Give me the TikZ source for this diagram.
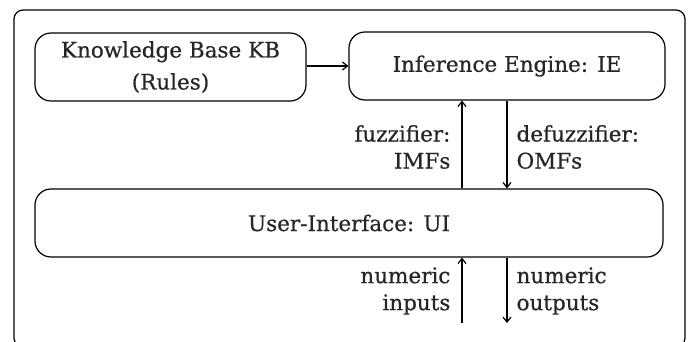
\documentclass[tikz,border=0pt]{standalone}
\usepackage{fontspec}
\setmainfont{DejaVu Serif}[FakeBold=0.6]
\usetikzlibrary{arrows.meta}
\begin{document}
\begin{tikzpicture}[x=1pt,y=-1pt,
  line width=1.2pt,
  every node/.style={font=\fontsize{21.5}{27}\selectfont, text=black!85},
  block/.style={draw, rounded corners=16pt, minimum height=68pt, inner sep=0pt, align=center},
  lbl/.style={align=left, inner sep=0pt},
  flow/.style={-{Straight Barb[length=5pt,width=8pt]}}
]
\useasboundingbox (0,0) rectangle (690,341);
% outer frame, its lower edge runs past the page
\begin{scope}
\clip (0,0) rectangle (690,341);
\draw[rounded corners=9pt] (14,10) rectangle (685,347);
\end{scope}

\node[block, minimum width=271pt, font=\fontsize{21.5}{32}\selectfont] (kb) at (170.5,67) {Knowledge Base KB\\(Rules)};
\node[block, minimum width=316pt] (ie) at (507,66) {Inference Engine: IE};
\node[block, minimum width=628pt] (ui) at (349,223) {User-Interface: UI};

\coordinate (upx) at (462,0);
\coordinate (dnx) at (507,0);
\coordinate (inend) at (462,323);
\coordinate (outend) at (507,323);

\draw[flow] (kb.east |- ie) -- (ie);
\draw[flow] (ui.north -| upx) -- (ie.south -| upx);
\draw[flow] (ie.south -| dnx) -- (ui.north -| dnx);
\draw[flow] (inend) -- (ui.south -| upx);
\draw[flow] (ui.south -| dnx) -- (outend);

\node[lbl, align=right, anchor=east] (fz) at (451,147) {fuzzifier:\\IMFs};
\node[lbl, anchor=west] (dfz) at (516,147) {defuzzifier:\\OMFs};
\node[lbl, align=right, anchor=east] (nin) at (451,291) {numeric\\inputs};
\node[lbl, anchor=west] (nout) at (516,291) {numeric\\outputs};
\end{tikzpicture}
\end{document}
